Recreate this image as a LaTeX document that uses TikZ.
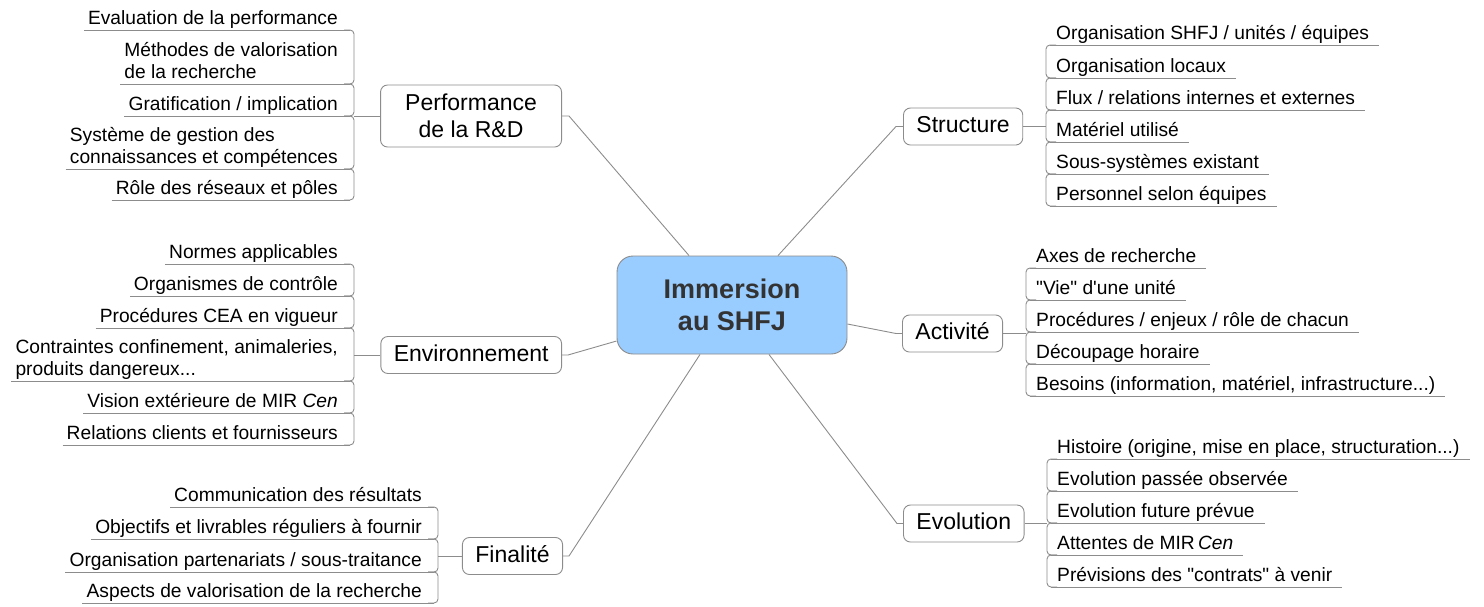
\documentclass[tikz,border=0pt]{standalone}
\usepackage{fontspec}
\setmainfont{Liberation Sans}
\usetikzlibrary{calc}
\definecolor{linegray}{HTML}{8C8C8C}
\definecolor{boxgray}{HTML}{8C8C8C}
\definecolor{centerfill}{HTML}{99CCFF}
\definecolor{centertext}{HTML}{333333}
\tikzset{
  conn/.style={draw=linegray, line width=0.9pt},
  branch/.style={draw=linegray, line width=0.9pt, rounded corners=4pt},
  mainbox/.style={draw=boxgray, line width=0.9pt, rounded corners=7pt, fill=white,
    inner xsep=13pt, inner ysep=0pt, minimum height=37pt,
    font=\fontsize{23}{27}\selectfont, align=center},
  mainone/.style={mainbox, text height=17pt, text depth=5pt},
  centerbox/.style={draw=boxgray, line width=0.9pt, rounded corners=16pt, fill=centerfill,
    minimum width=230pt, minimum height=98pt, inner sep=0pt, align=center,
    text=centertext, font=\fontsize{27}{32}\selectfont\bfseries},
  leaf/.style={inner sep=0pt, font=\fontsize{19.2}{22}\selectfont},
}
\newcommand{\RItem}[4]{%
  \node[leaf, anchor=base west] (#1) at ({#2+10},{#3-6}) {#4};
  \draw[conn] ({#2+4},#3) -- ($(#1.base east)+(10,6)$);
}
\newcommand{\LItem}[4]{%
  \node[leaf, anchor=base east] (#1) at ({#2-16},{#3-6}) {#4};
  \draw[conn] ($(#1.base west)+(-4,6)$) -- ({#2-4},#3);
}
\newcommand{\RJoin}[3]{\draw[branch] ({#1+10},#2) -- (#1,#2) -- (#1,#3) -- ({#1+10},#3);}
\newcommand{\LJoin}[3]{\draw[branch] ({#1-10},#2) -- (#1,#2) -- (#1,#3) -- ({#1-10},#3);}
\newcommand{\TwoL}[2]{\begin{tabular}[b]{@{}l@{}}#1\\#2\end{tabular}}
\begin{document}
\begin{tikzpicture}[x=1pt,y=-1pt]
\useasboundingbox (0,0) rectangle (1484,606);

% central node
\node[centerbox] (c) at (732,305) {Immersion\\au SHFJ};

% main nodes
\node[mainbox, anchor=east, minimum width=181pt, minimum height=62pt] (perf) at (562,116) {Performance\\de la R\&D};
\node[mainone, anchor=east] (env) at (562,355) {Environnement};
\node[mainone, anchor=east] (fin) at (563,556) {Finalité};
\node[mainone, anchor=west] (struct) at (903,126.5) {Structure};
\node[mainone, anchor=west] (act) at (902,333.5) {Activité};
\node[mainone, anchor=west] (evol) at (903,523.5) {Evolution};

% connectors from the central node
\draw[conn] ($(c.north)+(-43,0)$) -- ($(perf.east)+(7,0)$) -- (perf.east);
\draw[conn] ($(c.north)+(46,0)$) -- ($(struct.west)+(-7,0)$) -- (struct.west);
\draw[conn] ($(c.east)+(0,19)$) -- ($(act.west)+(-6,0)$) -- (act.west);
\draw[conn] ($(c.south)+(37,0)$) -- ($(evol.west)+(-6,0)$) -- (evol.west);
\draw[conn] ($(c.south)+(-32,0)$) -- ($(fin.east)+(6,0)$) -- (fin.east);
\draw[conn] ($(c.west)+(0,36)$) -- ($(env.east)+(6,0)$) -- (env.east);

% bar coordinates
\coordinate (pbar) at (354,116);
\coordinate (ebar) at (354,355);
\coordinate (fbar) at (438,556);
\coordinate (sbar) at (1046,126.5);
\coordinate (abar) at (1026,333.5);
\coordinate (vbar) at (1047,523.5);
\draw[conn] (perf.west) -- (pbar);
\draw[conn] (env.west) -- (ebar);
\draw[conn] (fin.west) -- (fbar);
\draw[conn] (struct.east) -- (sbar);
\draw[conn] (act.east) -- (abar);
\draw[conn] (evol.east) -- (vbar);

% Performance de la R&D
\LItem{p1}{354}{30}{Evaluation de la performance}
\LItem{p2}{354}{84}{\TwoL{Méthodes de valorisation}{de la recherche}}
\LItem{p3}{354}{116}{Gratification / implication}
\LItem{p4}{354}{169}{\TwoL{Système de gestion des}{connaissances et compétences}}
\LItem{p5}{354}{200}{Rôle des réseaux et pôles}
\LJoin{354}{30}{84}
\LJoin{354}{84}{116}
\LJoin{354}{116}{169}
\LJoin{354}{169}{200}

% Environnement
\LItem{e1}{354}{264}{Normes applicables}
\LItem{e2}{354}{296}{Organismes de contrôle}
\LItem{e3}{354}{328}{Procédures CEA en vigueur}
\LItem{e4}{354}{381}{\TwoL{Contraintes confinement, animaleries,}{produits dangereux...}}
\LItem{e5}{354}{413}{Vision extérieure de MIR \textit{Cen}}
\LItem{e6}{354}{445}{Relations clients et fournisseurs}
\LJoin{354}{264}{296}
\LJoin{354}{296}{328}
\LJoin{354}{328}{381}
\LJoin{354}{381}{413}
\LJoin{354}{413}{445}

% Finalité
\LItem{f1}{438}{507}{Communication des résultats}
\LItem{f2}{438}{539}{Objectifs et livrables réguliers à fournir}
\LItem{f3}{438}{572}{Organisation partenariats / sous-traitance}
\LItem{f4}{438}{603}{Aspects de valorisation de la recherche}
\LJoin{438}{507}{539}
\LJoin{438}{539}{572}
\LJoin{438}{572}{603}

% Structure
\RItem{s1}{1046}{45}{Organisation SHFJ / unités / équipes}
\RItem{s2}{1046}{78}{Organisation locaux}
\RItem{s3}{1046}{110}{Flux / relations internes et externes}
\RItem{s4}{1046}{142}{Matériel utilisé}
\RItem{s5}{1046}{174}{Sous-systèmes existant}
\RItem{s6}{1046}{206}{Personnel selon équipes}
\RJoin{1046}{45}{78}
\RJoin{1046}{78}{110}
\RJoin{1046}{110}{142}
\RJoin{1046}{142}{174}
\RJoin{1046}{174}{206}

% Activité
\RItem{a1}{1026}{268}{Axes de recherche}
\RItem{a2}{1026}{300}{\textquotedbl Vie\textquotedbl{} d\textquotesingle une unité}
\RItem{a3}{1026}{332}{Procédures / enjeux / rôle de chacun}
\RItem{a4}{1026}{364}{Découpage horaire}
\RItem{a5}{1026}{396}{Besoins (information, matériel, infrastructure...)}
\RJoin{1026}{268}{300}
\RJoin{1026}{300}{332}
\RJoin{1026}{332}{364}
\RJoin{1026}{364}{396}

% Evolution
\RItem{v1}{1047}{459}{Histoire (origine, mise en place, structuration...)}
\RItem{v2}{1047}{491}{Evolution passée observée}
\RItem{v3}{1047}{523}{Evolution future prévue}
\RItem{v4}{1047}{555}{Attentes de MIR\,\textit{Cen}}
\RItem{v5}{1047}{587}{Prévisions des \textquotedbl contrats\textquotedbl{} à venir}
\RJoin{1047}{459}{491}
\RJoin{1047}{491}{523}
\RJoin{1047}{523}{555}
\RJoin{1047}{555}{587}
\end{tikzpicture}
\end{document}
